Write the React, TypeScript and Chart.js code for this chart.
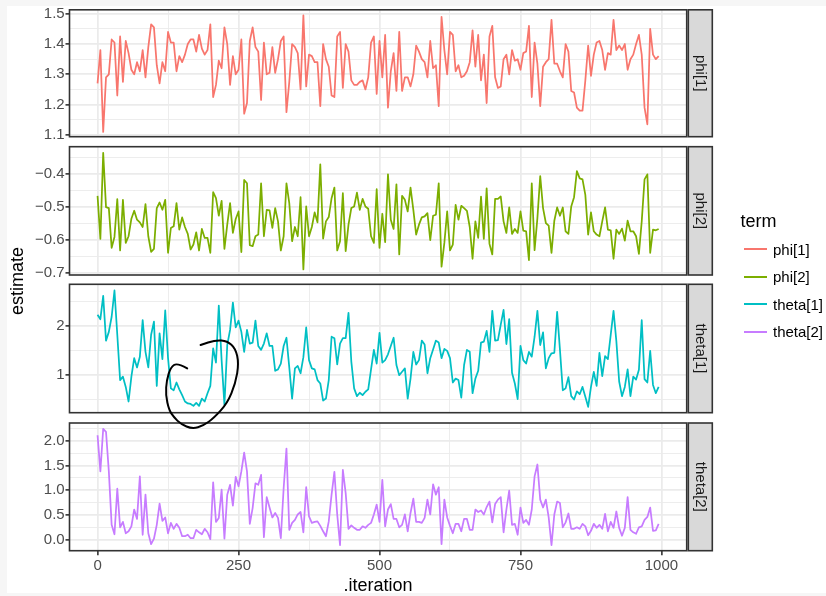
import React, { useEffect, useRef } from "react";
import { Chart, registerables } from "chart.js";

Chart.register(...registerables);

const FONT = "'Liberation Sans', Arial, Helvetica, sans-serif";

// ---------------- data ----------------
const terms = ["phi[1]", "phi[2]", "theta[1]", "theta[2]"];
const termColors = ["#F8766D", "#7CAE00", "#00BFC4", "#C77CFF"];
const iterationStep = 5;

const phi1 = [
  1.27, 1.38, 1.11, 1.29, 1.30, 1.415, 1.405, 1.23, 1.425, 1.275,
  1.41, 1.37, 1.315, 1.30, 1.34, 1.31, 1.38, 1.29, 1.39, 1.465,
  1.455, 1.33, 1.27, 1.34, 1.31, 1.44, 1.405, 1.405, 1.31, 1.36,
  1.34, 1.365, 1.40, 1.415, 1.415, 1.375, 1.43, 1.385, 1.365, 1.38,
  1.465, 1.225, 1.265, 1.345, 1.32, 1.455, 1.40, 1.265, 1.36, 1.30,
  1.315, 1.415, 1.17, 1.205, 1.41, 1.455, 1.39, 1.375, 1.215, 1.405,
  1.30, 1.305, 1.39, 1.305, 1.35, 1.41, 1.425, 1.175, 1.275, 1.40,
  1.39, 1.37, 1.25, 1.495, 1.26, 1.365, 1.36, 1.34, 1.34, 1.195,
  1.40, 1.35, 1.325, 1.23, 1.225, 1.425, 1.44, 1.255, 1.40, 1.375,
  1.28, 1.265, 1.265, 1.275, 1.28, 1.25, 1.29, 1.405, 1.425, 1.235,
  1.41,
  1.29, 1.43, 1.19, 1.31, 1.37, 1.245, 1.44, 1.245, 1.29, 1.29,
  1.26, 1.30, 1.395, 1.375, 1.35, 1.34, 1.29, 1.41, 1.32, 1.33,
  1.195, 1.49, 1.38, 1.30, 1.44, 1.43, 1.31, 1.33, 1.29, 1.295,
  1.31, 1.34, 1.445, 1.325, 1.43, 1.28, 1.365, 1.205, 1.425, 1.46,
  1.29, 1.255, 1.26, 1.35, 1.365, 1.30, 1.38, 1.345, 1.35, 1.315,
  1.37, 1.375, 1.46, 1.225, 1.405, 1.335, 1.195, 1.325, 1.34, 1.35,
  1.48, 1.335, 1.335, 1.31, 1.29, 1.40, 1.375, 1.245, 1.24, 1.19,
  1.18, 1.18, 1.28, 1.395, 1.295, 1.365, 1.405, 1.41, 1.38, 1.315,
  1.37, 1.365, 1.48, 1.38, 1.395, 1.38, 1.40, 1.315, 1.35, 1.365,
  1.40, 1.43, 1.365, 1.19, 1.135, 1.45, 1.365, 1.35, 1.36,
];

const phi2 = [
  -0.466, -0.596, -0.336, -0.50, -0.503, -0.623, -0.59, -0.476, -0.631, -0.478,
  -0.608, -0.588, -0.535, -0.511, -0.538, -0.546, -0.56, -0.491, -0.588, -0.635,
  -0.626, -0.503, -0.486, -0.508, -0.478, -0.638, -0.563, -0.558, -0.488, -0.568,
  -0.531, -0.56, -0.581, -0.628, -0.613, -0.576, -0.631, -0.566, -0.593, -0.593,
  -0.638, -0.455, -0.473, -0.526, -0.481, -0.626, -0.553, -0.488, -0.578, -0.536,
  -0.513, -0.636, -0.418, -0.428, -0.615, -0.618, -0.588, -0.583, -0.428, -0.588,
  -0.508, -0.51, -0.563, -0.503, -0.543, -0.631, -0.588, -0.428, -0.488, -0.603,
  -0.56, -0.588, -0.47, -0.688, -0.498, -0.588, -0.56, -0.516, -0.546, -0.371,
  -0.595, -0.543, -0.53, -0.473, -0.441, -0.631, -0.603, -0.458, -0.633, -0.553,
  -0.503, -0.498, -0.456, -0.508, -0.475, -0.498, -0.505, -0.588, -0.608, -0.446,
  -0.623,
  -0.52, -0.606, -0.401, -0.538, -0.566, -0.431, -0.643, -0.466, -0.478, -0.513,
  -0.441, -0.508, -0.583, -0.553, -0.531, -0.528, -0.518, -0.60, -0.526, -0.523,
  -0.428, -0.68, -0.608, -0.513, -0.631, -0.613, -0.493, -0.538, -0.496, -0.503,
  -0.511, -0.56, -0.656, -0.543, -0.593, -0.468, -0.596, -0.443, -0.611, -0.643,
  -0.475, -0.475, -0.468, -0.543, -0.578, -0.501, -0.581, -0.566, -0.578, -0.513,
  -0.571, -0.573, -0.66, -0.428, -0.63, -0.533, -0.406, -0.503, -0.548, -0.556,
  -0.638, -0.541, -0.501, -0.526, -0.501, -0.573, -0.581, -0.498, -0.47, -0.391,
  -0.413, -0.416, -0.463, -0.583, -0.516, -0.573, -0.583, -0.588, -0.543, -0.501,
  -0.568, -0.57, -0.656, -0.568, -0.581, -0.565, -0.601, -0.541, -0.573, -0.573,
  -0.588, -0.641, -0.543, -0.416, -0.401, -0.638, -0.568, -0.57, -0.566,
];

const theta1 = [
  2.23, 2.14, 2.62, 1.70, 1.88, 2.19, 2.73, 1.82, 0.89, 0.96,
  0.75, 0.45, 0.96, 1.34, 1.15, 1.37, 2.12, 1.47, 1.15, 1.82,
  2.09, 0.77, 1.85, 1.32, 2.32, 1.34, 0.72, 0.68, 0.84, 0.70,
  0.58, 0.45, 0.41, 0.40, 0.36, 0.42, 0.36, 0.51, 0.45, 0.62,
  0.77, 1.54, 1.25, 2.42, 1.30, 0.38, 1.61, 1.92, 2.48, 1.97,
  2.11, 1.88, 1.47, 1.92, 1.64, 1.66, 2.11, 1.59, 1.51, 1.64,
  1.85, 1.59, 1.59, 1.08, 1.11, 1.23, 1.59, 1.76, 1.15, 0.51,
  1.13, 1.18, 1.03, 1.36, 1.97, 1.30, 1.13, 1.11, 0.89, 0.82,
  0.47, 0.51, 0.89, 1.78, 1.75, 1.21, 1.64, 1.75, 1.75, 2.27,
  1.27, 0.72, 0.56, 0.63, 0.58, 0.65, 0.70, 1.11, 1.51, 1.23,
  1.86,
  1.25, 1.30, 1.42, 1.59, 1.76, 1.20, 0.99, 1.06, 1.13, 0.51,
  0.92, 1.47, 1.21, 1.30, 1.70, 1.62, 1.03, 1.34, 1.52, 1.70,
  1.66, 1.34, 1.53, 1.49, 1.34, 0.84, 0.92, 0.89, 0.53, 1.20,
  1.51, 1.47, 0.62, 0.92, 1.08, 1.66, 1.68, 1.90, 1.47, 2.31,
  1.70, 1.71, 2.03, 2.33, 1.63, 2.14, 1.04, 0.82, 0.50, 1.59,
  1.30, 1.23, 1.47, 1.37, 1.78, 2.31, 1.61, 1.87, 1.13, 1.34,
  1.44, 1.45, 2.29, 1.51, 0.68, 0.72, 0.95, 0.56, 0.49, 0.66,
  0.60, 0.75, 0.55, 0.34, 0.75, 1.06, 0.77, 1.45, 0.97, 1.38,
  1.32, 1.82, 2.31, 1.69, 0.86, 0.56, 0.75, 1.11, 0.56, 0.96,
  0.90, 1.10, 2.12, 0.91, 0.84, 1.49, 0.79, 0.62, 0.75,
];

const theta2 = [
  2.11, 1.38, 2.24, 2.18, 1.38, 0.30, 0.11, 1.03, 0.25, 0.36,
  0.13, 0.17, 0.27, 0.61, 0.42, 1.28, 0.10, 0.91, 0.13, -0.09,
  0.02, 0.30, 0.73, 0.38, 0.45, 0.13, 0.34, 0.22, 0.32, 0.24,
  0.07, 0.07, 0.10, 0.03, 0.03, 0.20, 0.15, 0.11, 0.22, 0.15,
  0.01, 1.16, 0.36, 0.44, 1.01, 0.02, 0.91, 1.11, 0.69, 1.27,
  1.08, 1.38, 1.76, 1.38, 0.32, 0.64, 1.14, 1.11, 1.31, 0.05,
  0.86, 0.65, 0.45, 0.54, 0.44, 0.03, 1.04, 1.84, 0.20, 0.34,
  0.40, 0.51, 0.56, 0.15, 1.06, 0.47, 0.34, 0.36, 0.37, 0.28,
  0.17, 0.07, 0.37, 0.91, 1.37, 0.51, -0.11, 1.41, 0.94, 0.22,
  0.29, 0.24, 0.20, 0.20, 0.27, 0.24, 0.30, 0.34, 0.51, 0.71,
  0.36,
  1.21, 0.27, 0.61, 0.72, 0.42, 0.42, 0.25, 0.30, 0.51, 0.17,
  0.54, 0.83, 0.36, 0.36, 0.34, 0.44, 0.81, 0.51, 1.12, 0.91,
  1.06, -0.09, 0.81, 0.45, 0.28, 0.13, 0.32, 0.32, 0.17, 0.42,
  0.42, 0.20, 0.20, 0.61, 0.56, 0.59, 0.51, 0.66, 0.77, 0.35,
  0.72, 0.81, 0.86, 0.15, 0.61, 0.99, 0.30, 0.32, 0.10, 0.65,
  0.34, 0.40, 0.30, 0.61, 1.28, 1.52, 0.81, 0.65, 0.81, 0.45,
  -0.11, 0.51, 0.77, 0.74, 0.25, 0.35, 0.53, 0.22, 0.22, 0.25,
  0.22, 0.32, 0.27, 0.09, 0.18, 0.32, 0.24, 0.30, 0.22, 0.52,
  0.17, 0.36, 0.24, 0.57, 0.24, 0.08, 0.24, 0.86, 0.20, 0.15,
  0.12, 0.25, 0.27, 0.40, 0.46, 0.65, 0.18, 0.19, 0.32,
];

const iterations = phi1.map((_, i) => i * iterationStep);

// ---------------- axes ----------------
const xMajorTicks = [0, 250, 500, 750, 1000];
const xMinorTicks = [125, 375, 625, 875];
const xTickLabels = ["0", "250", "500", "750", "1000"];
const xRange = [-49.75, 1044.75];

const phi1MajorTicks = [1.1, 1.2, 1.3, 1.4, 1.5];
const phi1MinorTicks = [1.15, 1.25, 1.35, 1.45];
const phi1TickLabels = ["1.1", "1.2", "1.3", "1.4", "1.5"];
const phi1Range = [1.094, 1.513];

const phi2MajorTicks = [-0.7, -0.6, -0.5, -0.4];
const phi2MinorTicks = [-0.65, -0.55, -0.45, -0.35];
const phi2TickLabels = ["\u22120.7", "\u22120.6", "\u22120.5", "\u22120.4"];
const phi2Range = [-0.705, -0.3175];

const theta1MajorTicks = [1, 2];
const theta1MinorTicks = [0.5, 1.5, 2.5];
const theta1TickLabels = ["1", "2"];
const theta1Range = [0.22, 2.857];

const theta2MajorTicks = [0, 0.5, 1, 1.5, 2];
const theta2MinorTicks = [0.25, 0.75, 1.25, 1.75, 2.25];
const theta2TickLabels = ["0.0", "0.5", "1.0", "1.5", "2.0"];
const theta2Range = [-0.222, 2.358];

// hand-drawn annotation loop, in theta[1] panel data coordinates
const scribbleIterations = [159, 141.5, 129.7, 122.6, 120.8, 126.7, 135.5, 147.4, 168.1, 188, 206.3, 230, 244.6, 250.5, 244.6, 230, 209.3, 182.7];
const scribbleValues = [1.131, 1.246, 1.152, 0.891, 0.583, 0.275, 0.125, -0.012, -0.115, -0.043, 0.111, 0.413, 0.823, 1.234, 1.542, 1.692, 1.713, 1.61];

// ---------------- layout ----------------
const W = 826;
const H = 596;
const PANEL_LEFT = 69.5;
const PANEL_RIGHT = 686.7;
const panelTops = [9.3, 146.7, 284.3, 423];
const panelBottoms = [136.7, 275, 412.7, 550.7];
const TICK_FONT = 15;

const panelValues = [phi1, phi2, theta1, theta2];
const panelMajor = [phi1MajorTicks, phi2MajorTicks, theta1MajorTicks, theta2MajorTicks];
const panelMinor = [phi1MinorTicks, phi2MinorTicks, theta1MinorTicks, theta2MinorTicks];
const panelLabels = [phi1TickLabels, phi2TickLabels, theta1TickLabels, theta2TickLabels];
const panelRanges = [phi1Range, phi2Range, theta1Range, theta2Range];

const near = (a: number, b: number) => Math.abs(a - b) < 1e-9;

function makeConfig(p: number): any {
  const isLast = p === 3;
  const yMajor = panelMajor[p];
  const yMinor = panelMinor[p];
  const yLabels = panelLabels[p];
  const isYMajor = (v: number) => yMajor.some((m) => near(m, v));
  const isXMajor = (v: number) => xMajorTicks.some((m) => near(m, v));

  const facetPlugin = {
    id: "facet" + p,
    afterDraw(chart: any) {
      const { ctx, chartArea: a } = chart;
      ctx.save();
      ctx.strokeStyle = "#333333";
      ctx.lineWidth = 1.6;
      ctx.strokeRect(a.left, a.top, a.right - a.left, a.bottom - a.top);
      const sx = a.right + 1.6;
      const sw = 24;
      ctx.fillStyle = "#d9d9d9";
      ctx.fillRect(sx, a.top, sw, a.bottom - a.top);
      ctx.strokeRect(sx, a.top, sw, a.bottom - a.top);
      ctx.translate(sx + sw / 2, (a.top + a.bottom) / 2);
      ctx.rotate(Math.PI / 2);
      ctx.fillStyle = "#1a1a1a";
      ctx.font = `${TICK_FONT}px ${FONT}`;
      ctx.textAlign = "center";
      ctx.textBaseline = "middle";
      ctx.fillText(terms[p], 0, 0);
      ctx.restore();

      if (p === 2) {
        const xs = chart.scales.x;
        const ys = chart.scales.y;
        const pts = scribbleIterations.map((it, i) => [
          xs.getPixelForValue(it),
          ys.getPixelForValue(scribbleValues[i]),
        ]);
        ctx.save();
        ctx.strokeStyle = "#000000";
        ctx.lineWidth = 2;
        ctx.lineCap = "round";
        ctx.lineJoin = "round";
        ctx.beginPath();
        ctx.moveTo(pts[0][0], pts[0][1]);
        for (let i = 1; i < pts.length - 1; i++) {
          const mx = (pts[i][0] + pts[i + 1][0]) / 2;
          const my = (pts[i][1] + pts[i + 1][1]) / 2;
          ctx.quadraticCurveTo(pts[i][0], pts[i][1], mx, my);
        }
        const last = pts[pts.length - 1];
        ctx.lineTo(last[0], last[1]);
        ctx.stroke();
        ctx.restore();
      }
    },
  };

  return {
    type: "line",
    data: {
      datasets: [
        {
          label: terms[p],
          data: panelValues[p].map((v, i) => ({ x: iterations[i], y: v })),
          borderColor: termColors[p],
          backgroundColor: termColors[p],
          borderWidth: 1.75,
          pointRadius: 0,
          tension: 0,
          borderJoinStyle: "round",
          fill: false,
        },
      ],
    },
    options: {
      responsive: false,
      animation: false,
      devicePixelRatio: 1,
      events: [],
      layout: {
        padding: {
          left: 0,
          right: W - PANEL_RIGHT,
          top: panelTops[p],
          bottom: isLast ? 0 : H - panelBottoms[p],
        },
      },
      plugins: {
        legend: { display: false },
        tooltip: { enabled: false },
        title: { display: false },
      },
      scales: {
        x: {
          type: "linear",
          min: xRange[0],
          max: xRange[1],
          afterBuildTicks: (scale: any) => {
            scale.ticks = [...xMajorTicks, ...xMinorTicks].sort((a, b) => a - b).map((v) => ({ value: v }));
          },
          afterFit: (scale: any) => {
            scale.height = isLast ? H - panelBottoms[p] : 0;
          },
          border: { display: false },
          grid: {
            color: "#ebebeb",
            lineWidth: (c: any) => (c.tick && isXMajor(c.tick.value) ? 1.75 : 0.9),
            drawTicks: isLast,
            tickLength: 4.5,
            tickWidth: 1.6,
            tickColor: (c: any) => (c.tick && isXMajor(c.tick.value) ? "#333333" : "rgba(0,0,0,0)"),
          },
          ticks: {
            display: isLast,
            autoSkip: false,
            maxRotation: 0,
            minRotation: 0,
            padding: 1.2,
            color: "#4d4d4d",
            font: { family: FONT, size: TICK_FONT },
            callback: (value: number) => {
              const idx = xMajorTicks.findIndex((m) => near(m, value));
              return idx >= 0 ? xTickLabels[idx] : "";
            },
          },
        },
        y: {
          type: "linear",
          min: panelRanges[p][0],
          max: panelRanges[p][1],
          afterBuildTicks: (scale: any) => {
            scale.ticks = [...yMajor, ...yMinor].sort((a, b) => a - b).map((v) => ({ value: v }));
          },
          afterFit: (scale: any) => {
            scale.width = PANEL_LEFT;
          },
          border: { display: false },
          grid: {
            color: "#ebebeb",
            lineWidth: (c: any) => (c.tick && isYMajor(c.tick.value) ? 1.75 : 0.9),
            drawTicks: true,
            tickLength: 4,
            tickWidth: 1.6,
            tickColor: (c: any) => (c.tick && isYMajor(c.tick.value) ? "#333333" : "rgba(0,0,0,0)"),
          },
          ticks: {
            autoSkip: false,
            padding: 0.8,
            color: "#4d4d4d",
            font: { family: FONT, size: TICK_FONT },
            callback: (value: number) => {
              const idx = yMajor.findIndex((m) => near(m, value));
              return idx >= 0 ? yLabels[idx] : "";
            },
          },
        },
      },
    },
    plugins: [facetPlugin],
  };
}

export default function App() {
  const r0 = useRef<HTMLCanvasElement | null>(null);
  const r1 = useRef<HTMLCanvasElement | null>(null);
  const r2 = useRef<HTMLCanvasElement | null>(null);
  const r3 = useRef<HTMLCanvasElement | null>(null);

  useEffect(() => {
    const refs = [r0, r1, r2, r3];
    const charts = refs.map((r, p) => new Chart(r.current as HTMLCanvasElement, makeConfig(p)));
    return () => charts.forEach((c) => c.destroy());
  }, []);

  const canvasStyle = (z: number): React.CSSProperties => ({
    position: "absolute",
    left: 0,
    top: 0,
    width: W,
    height: H,
    zIndex: z,
  });

  return (
    <div style={{ position: "fixed", left: 0, top: 0, width: W, height: H, background: "#f6f6f6", overflow: "hidden" }}>
      <div style={{ position: "absolute", left: 7, top: 6, width: W - 7, height: 587, background: "#ffffff" }} />
      <canvas ref={r0} width={W} height={H} style={canvasStyle(1)} />
      <canvas ref={r1} width={W} height={H} style={canvasStyle(1)} />
      <canvas ref={r3} width={W} height={H} style={canvasStyle(1)} />
      <canvas ref={r2} width={W} height={H} style={canvasStyle(2)} />

      <div
        style={{
          position: "absolute",
          left: -33.5,
          top: 272,
          width: 100,
          height: 18,
          lineHeight: "18px",
          fontFamily: FONT,
          fontSize: 18,
          color: "#000",
          textAlign: "center",
          transform: "rotate(-90deg)",
          zIndex: 3,
        }}
      >
        estimate
      </div>
      <div
        style={{
          position: "absolute",
          left: (PANEL_LEFT + PANEL_RIGHT) / 2 - 100,
          top: 575.8,
          width: 200,
          height: 18,
          lineHeight: "18px",
          fontFamily: FONT,
          fontSize: 18,
          color: "#000",
          textAlign: "center",
          zIndex: 3,
        }}
      >
        .iteration
      </div>

      <div
        style={{
          position: "absolute",
          left: 740.5,
          top: 211.5,
          lineHeight: "18px",
          fontFamily: FONT,
          fontSize: 18,
          color: "#000",
          zIndex: 3,
        }}
      >
        term
      </div>
      {terms.map((t, i) => (
        <div
          key={t}
          style={{
            position: "absolute",
            left: 744,
            top: 235.5 + i * 27.5,
            height: 27.5,
            display: "flex",
            alignItems: "center",
            zIndex: 3,
          }}
        >
          <div style={{ width: 23, height: 1.75, background: termColors[i] }} />
          <span style={{ marginLeft: 6, fontFamily: FONT, fontSize: TICK_FONT, lineHeight: `${TICK_FONT}px`, color: "#000" }}>{t}</span>
        </div>
      ))}
    </div>
  );
}
